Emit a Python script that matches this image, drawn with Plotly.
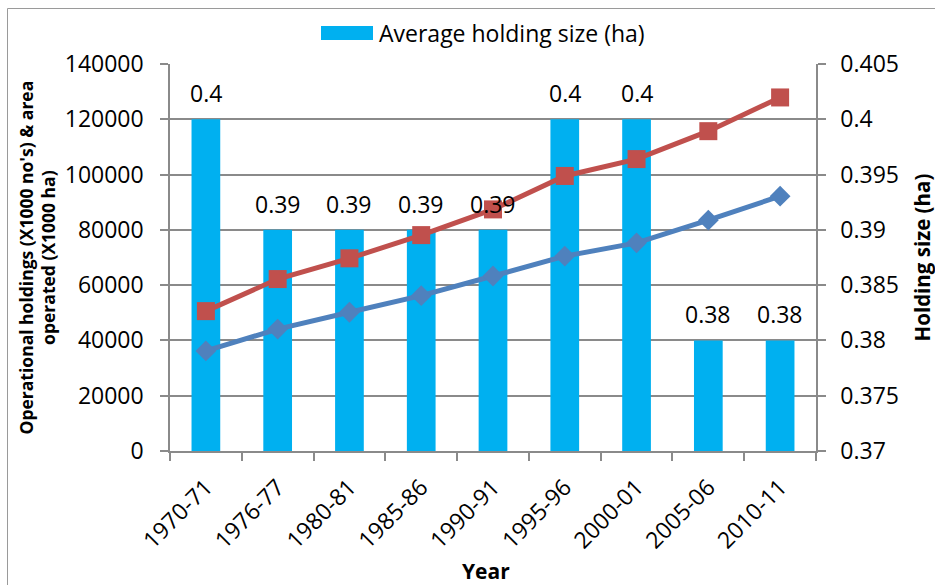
import plotly.graph_objects as go

# Census rounds
years = ["1970-71", "1976-77", "1980-81", "1985-86", "1990-91",
         "1995-96", "2000-01", "2005-06", "2010-11"]

# Operational holdings (x1000 no's) and area operated (x1000 ha)
holdings = [36200, 44100, 50200, 56200, 63300, 70500, 75300, 83500, 92200]
area = [50600, 62200, 69700, 78100, 87400, 99500, 105600, 115700, 127900]

# Average holding size (ha)
avg_size = [0.40, 0.39, 0.39, 0.39, 0.39, 0.40, 0.40, 0.38, 0.38]
avg_labels = ["0.4", "0.39", "0.39", "0.39", "0.39", "0.4", "0.4", "0.38", "0.38"]

FONT = "Open Sans"
GRID = "#8a8a8a"
BAR_BLUE = "#00B0F0"
LINE_RED = "#C0504D"
LINE_BLUE = "#4F81BD"

# plot area in pixels
W, H = 935, 585
L, R, T, B = 170, 119, 64, 134
PW, PH = W - L - R, H - T - B


def px_x(x):
    return (x - L) / PW


def px_y(y):
    return (H - B - y) / PH


fig = go.Figure()

# bars live on the base axis (right side) so the lines on the overlaying
# left axis are drawn above them
fig.add_trace(go.Bar(
    x=years, y=avg_size, yaxis="y", name="Average holding size (ha)",
    marker=dict(color=BAR_BLUE, line=dict(width=0)), width=0.4,
    showlegend=False,
))

fig.add_trace(go.Scatter(
    x=years, y=area, mode="lines+markers", name="Area operated",
    yaxis="y2",
    line=dict(color=LINE_RED, width=5),
    marker=dict(symbol="square", size=18, color=LINE_RED),
    showlegend=False,
))

fig.add_trace(go.Scatter(
    x=years, y=holdings, mode="lines+markers", name="Operational holdings",
    yaxis="y2",
    line=dict(color=LINE_BLUE, width=5),
    marker=dict(symbol="diamond", size=16, color=LINE_BLUE),
    showlegend=False,
))

annotations = []
for yr, v, lab in zip(years, avg_size, avg_labels):
    annotations.append(dict(
        x=yr, y=v, xref="x", yref="y", text=lab, showarrow=False,
        yshift=26, yanchor="middle", xanchor="center",
        font=dict(family=FONT, size=23, color="black"),
    ))

# legend entry
annotations.append(dict(
    x=px_x(377), y=px_y(33), xref="paper", yref="paper",
    text="Average holding size (ha)", showarrow=False,
    xanchor="left", yanchor="middle",
    font=dict(family=FONT, size=23, color="black"),
))

# axis titles
annotations.append(dict(
    x=px_x(37), y=0.5, xref="paper", yref="paper",
    text="<b>Operational holdings (X1000 no's) & area<br>operated (X1000 ha)</b>",
    showarrow=False, textangle=-90, xanchor="center", yanchor="middle",
    font=dict(family=FONT, size=17.5, color="black"),
))
annotations.append(dict(
    x=px_x(921), y=0.5, xref="paper", yref="paper",
    text="<b>Holding size (ha)</b>", showarrow=False, textangle=-90,
    xanchor="center", yanchor="middle",
    font=dict(family=FONT, size=20.5, color="black"),
))
annotations.append(dict(
    x=px_x(486), y=px_y(571), xref="paper", yref="paper",
    text="<b>Year</b>", showarrow=False, xanchor="center", yanchor="middle",
    font=dict(family=FONT, size=21, color="black"),
))

shapes = [
    # legend swatch
    dict(type="rect", xref="paper", yref="paper",
         x0=px_x(321), x1=px_x(373), y0=px_y(40), y1=px_y(26),
         fillcolor=BAR_BLUE, line=dict(width=0)),
    # chart border
    dict(type="rect", xref="paper", yref="paper",
         x0=px_x(7.5), x1=px_x(W + 20), y0=px_y(H + 20), y1=px_y(8.5),
         fillcolor="rgba(0,0,0,0)", line=dict(color="#9a9a9a", width=1)),
]

fig.update_layout(
    width=W, height=H,
    margin=dict(l=L, r=R, t=T, b=B),
    paper_bgcolor="white", plot_bgcolor="white",
    font=dict(family=FONT, size=23, color="black"),
    showlegend=False,
    xaxis=dict(
        type="category", range=[-0.5, 8.5], tickangle=-45,
        showline=True, linecolor=GRID, linewidth=1.5,
        ticks="outside", tickson="boundaries", ticklen=8, tickcolor=GRID,
        tickwidth=1.5, showgrid=False, ticklabelstandoff=12,
        tickfont=dict(family=FONT, size=23),
    ),
    yaxis=dict(
        range=[0.37, 0.405], dtick=0.005, side="right",
        showline=True, linecolor=GRID, linewidth=1.5,
        ticks="outside", ticklen=8, tickcolor=GRID, tickwidth=1.5,
        showgrid=True, gridcolor=GRID, gridwidth=1.5, zeroline=False,
        ticklabelstandoff=10,
        tickfont=dict(family=FONT, size=23),
    ),
    yaxis2=dict(
        range=[0, 140000], dtick=20000, tickformat="d",
        overlaying="y", side="left",
        showline=True, linecolor=GRID, linewidth=1.5,
        ticks="outside", ticklen=8, tickcolor=GRID, tickwidth=1.5,
        showgrid=False, zeroline=False,
        ticklabelstandoff=12,
        tickfont=dict(family=FONT, size=23),
    ),
    annotations=annotations,
    shapes=shapes,
)

fig.write_html("out.html")
